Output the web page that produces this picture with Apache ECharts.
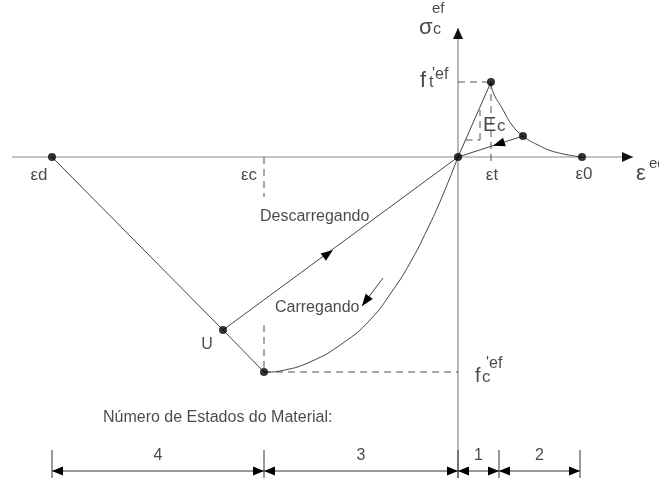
<!DOCTYPE html>
<html>
<head>
<meta charset="utf-8">
<script src="https://cdn.jsdelivr.net/npm/echarts@6/dist/echarts.min.js"></script>
<style>
  html, body { margin: 0; padding: 0; background: #fff; }
  #chart { width: 659px; height: 478px; }
</style>
</head>
<body>
<div id="chart"></div>
<script>
// Strain (x) and effective stress (y) in drawing units; the origin is the undamaged state.

// Compression envelope: εd → U → (εc, f'c)
const compressionEnvelope = [[-40.6, 0], [-23.5, -17.3], [-19.4, -21.5]];
// Loading path from the origin down to (εc, f'c)
const loadingCurve = [[-19.4, -21.5], [-17.8, -21.4], [-14.8, -20.5], [-11.5, -18.6], [-8.8, -16.3],
  [-6.5, -13.3], [-4.8, -10.6], [-3.1, -7.3], [-1.6, -4.0], [0, 0]];
// Unloading from U back to the origin
const unloadingLine = [[-23.5, -17.3], [0, 0]];
// Tension: linear branch (slope Ec) up to (εt, f't)
const tensionRise = [[0, 0], [3.3, 7.5]];
// Tension softening down to ε0
const tensionSoftening = [[3.3, 7.5], [3.5, 6.5], [4.4, 4.9], [5.4, 3.2], [6.5, 2.1],
  [8.0, 1.2], [9.7, 0.5], [12.4, 0]];
// Secant unloading in tension
const tensionReload = [[6.5, 2.1], [0, 0]];
// Marked states
const keyPoints = [[-40.6, 0], [-23.5, -17.3], [-19.4, -21.5], [0, 0], [3.3, 7.5], [6.5, 2.1], [12.4, 0]];
// Material state ranges along the strain axis
const stateBounds = [-40.6, -19.4, 0, 4.1, 12.2];
const stateLabels = ['4', '3', '1', '2'];

const FONT = 'Liberation Sans, Arial, Helvetica, sans-serif';
const INK = '#1a1a1a';
const CURVE = '#444';
const AXIS = '#8a8a8a';

// segment lists: [x1, y1, x2, y2, mode]  mode: 0 line, 1 line + head, 2 line + two heads, 3 head only
const axisSegments = [
  [-44.6, 0, 17.5, 0, 1],
  [0, -32.1, 0, 12.9, 1]
];
const guideSegments = [
  [-19.4, 0, -19.4, -4.0, 0],
  [-19.4, -16.8, -19.4, -21.5, 0],
  [-19.4, -21.5, 0, -21.5, 0],
  [0, 7.5, 3.3, 7.5, 0],
  [3.3, 7.5, 3.3, -0.8, 0],
  [0.75, 1.7, 2.2, 1.7, 0],
  [2.2, 1.7, 2.2, 4.7, 0]
];
const flowSegments = [
  [-23.5, -17.3, -12.5, -9.3, 3],
  [6.5, 2.1, 3.5, 1.13, 3],
  [-7.5, -12.1, -9.6, -14.9, 1]
];
const dimY = -31.4, tickTop = -29.3, tickBottom = -32.1, dimLabelY = -29.9;
const dimSegments = [];
for (let i = 0; i < stateBounds.length - 1; i++) {
  dimSegments.push([stateBounds[i], dimY, stateBounds[i + 1], dimY, 2]);
}
stateBounds.forEach(b => dimSegments.push([b, tickTop, b, tickBottom, 0]));

function segmentSeries(name, data, stroke, opts) {
  const o = Object.assign({ width: 1, dash: null, headL: 11, headW: 9 }, opts || {});
  return {
    name, type: 'custom', data, clip: false, silent: true, z: o.z || 2,
    encode: { x: [0, 2], y: [1, 3] },
    renderItem(params, api) {
      const a = api.coord([api.value(0), api.value(1)]);
      const b = api.coord([api.value(2), api.value(3)]);
      const mode = api.value(4);
      const children = [];
      if (mode !== 3) {
        children.push({
          type: 'line',
          shape: { x1: a[0], y1: a[1], x2: b[0], y2: b[1] },
          style: { stroke, lineWidth: o.width, lineDash: o.dash, fill: null }
        });
      }
      const head = (tip, from) => {
        const dx = tip[0] - from[0], dy = tip[1] - from[1];
        const len = Math.hypot(dx, dy) || 1;
        const ux = dx / len, uy = dy / len;
        const L = o.headL, W = o.headW / 2;
        return {
          type: 'polygon',
          shape: { points: [
            [tip[0], tip[1]],
            [tip[0] - ux * L - uy * W, tip[1] - uy * L + ux * W],
            [tip[0] - ux * L + uy * W, tip[1] - uy * L - ux * W]
          ] },
          style: { fill: o.headFill || stroke }
        };
      };
      if (mode === 1 || mode === 2 || mode === 3) children.push(head(b, a));
      if (mode === 2) children.push(head(a, b));
      return { type: 'group', children };
    }
  };
}

// polylines through the listed points; curved paths are drawn as a smooth path through them
function pathSeries(name, data, smooth) {
  return {
    name, type: 'custom', data: [0], clip: false, silent: true, z: 3,
    renderItem(params, api) {
      const pts = data.map(p => api.coord(p));
      return {
        type: 'polyline',
        shape: { points: pts, smooth: smooth ? 0.5 : 0 },
        style: { stroke: CURVE, lineWidth: 1, fill: null }
      };
    }
  };
}

// text annotations anchored in drawing units
const notes = [
  { t: 'εd', at: [-41.9, -1.8], size: 17, align: 'center' },
  { t: 'εc', at: [-20.9, -1.8], size: 17, align: 'center' },
  { t: 'εt', at: [3.4, -1.8], size: 17, align: 'center' },
  { t: 'ε0', at: [12.6, -1.7], size: 17, align: 'center' },
  { t: 'ε', at: [17.8, -1.7], size: 22 },
  { t: 'eq', at: [19.1, -0.7], size: 15 },
  { t: 'σ', at: [-3.9, 12.9], size: 22 },
  { t: 'c', at: [-2.5, 12.7], size: 16 },
  { t: 'ef', at: [-2.6, 14.85], size: 15 },
  { t: 'f', at: [-3.8, 7.6], size: 22 },
  { t: 't', at: [-2.9, 7.4], size: 16 },
  { t: '\'ef', at: [-2.6, 8.2], size: 16 },
  { t: 'f', at: [1.7, -21.9], size: 20 },
  { t: 'c', at: [2.4, -22.0], size: 17 },
  { t: '\'ef', at: [2.8, -20.7], size: 16 },
  { t: 'E', at: [2.5, 3.2], size: 20 },
  { t: 'c', at: [3.9, 3.1], size: 17 },
  { t: 'U', at: [-25.1, -18.8], size: 16, align: 'center' },
  { t: 'Descarregando', at: [-19.8, -6.0], size: 16 },
  { t: 'Carregando', at: [-18.3, -15.1], size: 16 },
  { t: 'Número de Estados do Material:', at: [-35.5, -26.1], size: 16 }
];
stateLabels.forEach((s, i) => {
  notes.push({ t: s, at: [(stateBounds[i] + stateBounds[i + 1]) / 2, dimLabelY], size: 16, align: 'center' });
});

const noteData = notes.map(n => ({
  value: n.at,
  label: {
    show: true, position: 'inside', formatter: n.t,
    align: n.align || 'left', verticalAlign: 'middle',
    fontSize: n.size, fontFamily: FONT, color: INK
  }
}));

const chart = echarts.init(document.getElementById('chart'), null, { renderer: 'canvas' });
chart.setOption({
  backgroundColor: '#ffffff',
  animation: false,
  grid: { left: 0, top: 0, width: 659, height: 478, containLabel: false },
  xAxis: { type: 'value', min: -45.8, max: 20.1, show: false },
  yAxis: { type: 'value', min: -32.1, max: 15.7, show: false },
  series: [
    segmentSeries('axes', axisSegments, AXIS, { width: 1.2, headL: 11, headW: 10, headFill: '#111', z: 1 }),
    segmentSeries('guides', guideSegments, '#555', { width: 1, dash: [7, 5] }),
    segmentSeries('states', dimSegments, '#333', { width: 1, headL: 11, headW: 9, headFill: '#000' }),
    pathSeries('compression envelope', compressionEnvelope, false),
    pathSeries('loading', loadingCurve, true),
    pathSeries('unloading', unloadingLine, false),
    pathSeries('tension', tensionRise, false),
    pathSeries('softening', tensionSoftening, true),
    pathSeries('tension unloading', tensionReload, false),
    segmentSeries('flow', flowSegments, CURVE, { width: 1, headL: 12, headW: 9, headFill: '#000', z: 4 }),
    {
      name: 'states marked', type: 'scatter', data: keyPoints, symbolSize: 8,
      itemStyle: { color: '#000' }, silent: true, z: 5
    },
    {
      name: 'notes', type: 'scatter', data: noteData, symbolSize: 1,
      itemStyle: { color: 'rgba(0,0,0,0)' }, silent: true, z: 6
    }
  ]
});
</script>
</body>
</html>
